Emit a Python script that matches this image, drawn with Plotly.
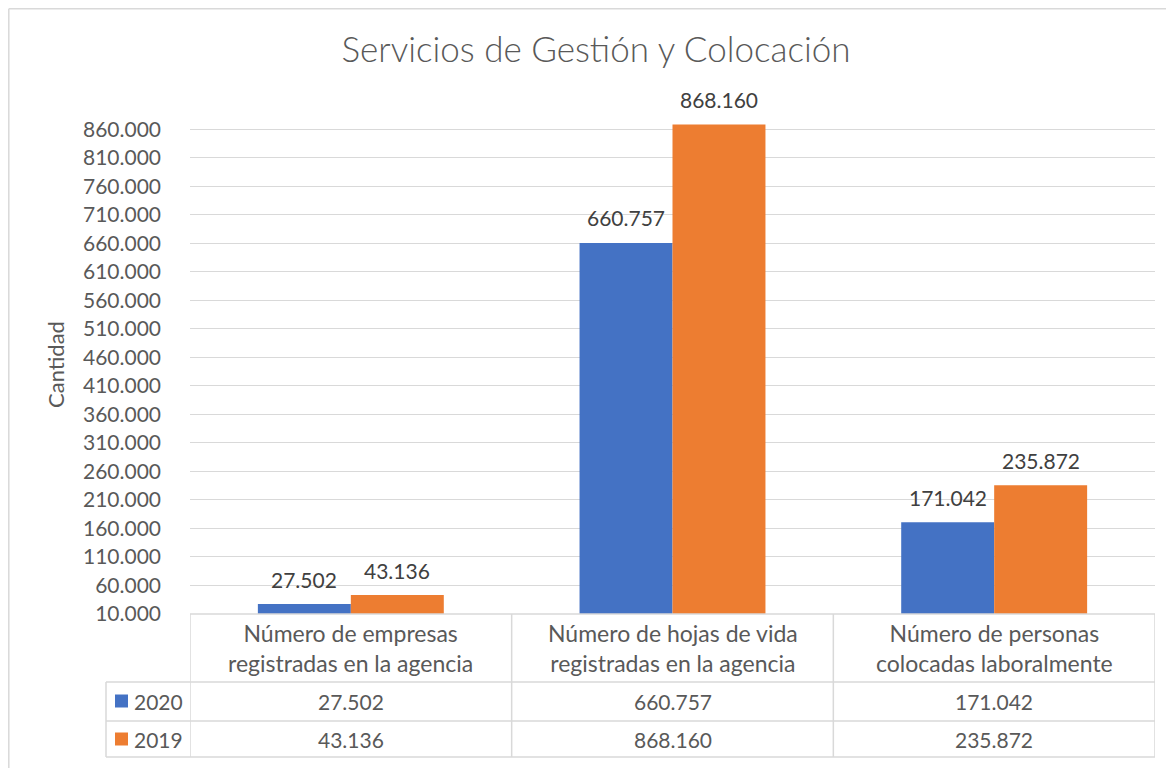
import plotly.graph_objects as go

# ---------------- data ----------------
categories = [
    "Número de empresas<br>registradas en la agencia",
    "Número de hojas de vida<br>registradas en la agencia",
    "Número de personas<br>colocadas laboralmente",
]
series_names = ["2020", "2019"]
values_2020 = [27502, 660757, 171042]
values_2019 = [43136, 868160, 235872]
colors = ["#4472C4", "#ED7D31"]

title_text = "Servicios de Gestión y Colocación"
y_title = "Cantidad"

# ---------------- layout constants ----------------
O = 8  # page offset of the figure (body margin)
W, H = 1166, 760
L, R, T, B = 182, 19, 107, 154
PW = W - L - R
PH = H - T - B
FONT = "Lato"
GRAY = "#595959"
LINE = "#d9d9d9"


def fx(p):
    return (p - O - L) / PW


def fy(p):
    return (H - B - (p - O)) / PH


def fmt(v):
    return f"{v:,}".replace(",", ".")


x_idx = list(range(len(categories)))
series_values = [values_2020, values_2019]

fig = go.Figure()
for name, vals, col in zip(series_names, series_values, colors):
    fig.add_trace(go.Bar(
        x=x_idx, y=vals, name=name, marker=dict(color=col, line=dict(width=0)),
        showlegend=False, hoverinfo="skip",
    ))

annotations = []
shifts = [-46.5, 46.5]
# data labels above bars
for s, vals in enumerate(series_values):
    for i, v in enumerate(vals):
        annotations.append(dict(
            x=i, y=v, xref="x", yref="y", text=fmt(v), showarrow=False,
            xshift=shifts[s], yshift=25, yanchor="middle",
            font=dict(family=FONT, size=21, color="#404040"),
        ))

# data table: header row with category names
for i, cat in enumerate(categories):
    annotations.append(dict(
        x=i, y=fy(648), xref="x", yref="paper", text=cat, showarrow=False,
        yanchor="middle", font=dict(family=FONT, size=23, color=GRAY),
    ))

row_centers = [701, 739]
for s, vals in enumerate(series_values):
    for i, v in enumerate(vals):
        annotations.append(dict(
            x=i, y=fy(row_centers[s]), xref="x", yref="paper", text=fmt(v),
            showarrow=False, yanchor="middle",
            font=dict(family=FONT, size=21, color=GRAY),
        ))
    annotations.append(dict(
        x=fx(158), y=fy(row_centers[s]), xref="paper", yref="paper",
        text=series_names[s], showarrow=False, yanchor="middle", xanchor="center",
        font=dict(family=FONT, size=21, color=GRAY),
    ))

shapes = []
line_style = dict(color=LINE, width=1.5)
# horizontal table lines
shapes.append(dict(type="line", xref="paper", yref="paper", x0=fx(190), x1=fx(1155), y0=fy(614), y1=fy(614), line=line_style))
for yy in [682, 721, 757]:
    shapes.append(dict(type="line", xref="paper", yref="paper", x0=fx(106), x1=fx(1155), y0=fy(yy), y1=fy(yy), line=line_style))
# vertical table lines
shapes.append(dict(type="line", xref="paper", yref="paper", x0=fx(106), x1=fx(106), y0=fy(682), y1=fy(757), line=line_style))
for k in range(len(categories) + 1):
    shapes.append(dict(type="line", xref="x", yref="paper", x0=k - 0.5, x1=k - 0.5, y0=fy(614), y1=fy(757), line=line_style))
# legend keys
for s, col in enumerate(colors):
    c = row_centers[s]
    shapes.append(dict(type="rect", xref="paper", yref="paper", x0=fx(115), x1=fx(128), y0=fy(c - 6.5), y1=fy(c + 6.5), fillcolor=col, line=dict(width=0)))
# outer chart border (left and top visible)
shapes.append(dict(type="line", xref="paper", yref="paper", x0=fx(8.8), x1=fx(8.8), y0=fy(8.8), y1=fy(800), line=dict(color=LINE, width=1.5)))
shapes.append(dict(type="line", xref="paper", yref="paper", x0=fx(8.8), x1=fx(1200), y0=fy(8.8), y1=fy(8.8), line=dict(color=LINE, width=1.5)))

fig.update_layout(
    width=W, height=H,
    margin=dict(l=L, r=R, t=T, b=B, autoexpand=False),
    paper_bgcolor="white", plot_bgcolor="white",
    barmode="group", bargap=0.422, bargroupgap=0,
    separators=",.",
    title=dict(text=title_text, x=(596 - O) / W, xanchor="center", y=1 - (50 - O) / H, yanchor="middle",
               font=dict(family=FONT, size=35, color=GRAY, weight=300)),
    annotations=annotations,
    shapes=shapes,
    xaxis=dict(range=[-0.5, 2.5], showticklabels=False, showgrid=False, zeroline=False, showline=False, ticks=""),
    yaxis=dict(range=[10000, 885000], tick0=10000, dtick=50000, tickformat=",.0f",
               showgrid=True, gridcolor=LINE, gridwidth=1.3, zeroline=False, showline=False,
               ticklabelstandoff=28,
               tickfont=dict(family=FONT, size=21, color=GRAY),
               title=dict(text=y_title, standoff=12, font=dict(family=FONT, size=22, color=GRAY))),
)

fig.write_html("out.html")
